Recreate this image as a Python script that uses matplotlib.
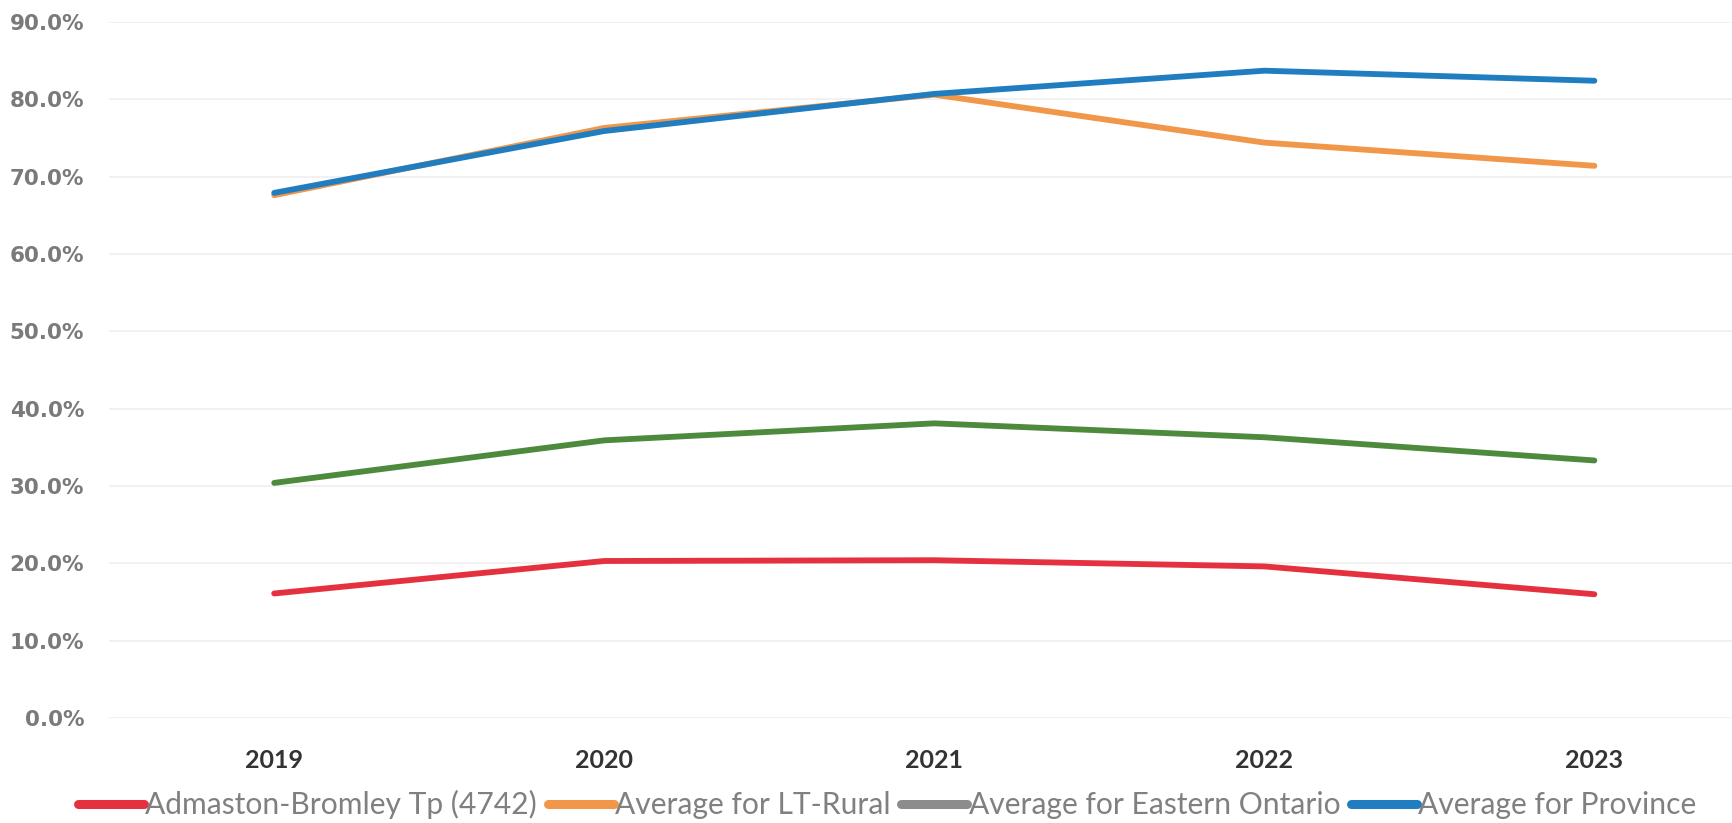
import matplotlib
matplotlib.use("Agg")
from matplotlib import pyplot as plt
from matplotlib.lines import Line2D
from matplotlib.ticker import FuncFormatter

years = ['2019', '2020', '2021', '2022', '2023']
admaston = [16.1, 20.3, 20.4, 19.6, 16.0]
lt_rural = [67.6, 76.3, 80.6, 74.4, 71.4]
eastern_ontario = [30.4, 35.9, 38.1, 36.3, 33.3]
province = [67.9, 75.9, 80.7, 83.7, 82.4]

labels = ['Admaston-Bromley Tp (4742)', 'Average for LT-Rural',
          'Average for Eastern Ontario', 'Average for Province']
line_colors = ['#e5313f', '#f0974a', '#4d8a3c', '#1f7dc0']
legend_colors = ['#e5313f', '#f0974a', '#8c8c8c', '#1f7dc0']


def main():
    fig = plt.figure(figsize=(17.33, 8.23), dpi=100)
    ax = fig.add_axes([0.063, 0.1276, 0.937, 0.8457])

    x = range(len(years))
    for series, color in zip([admaston, lt_rural, eastern_ontario, province], line_colors):
        ax.plot(x, series, color=color, linewidth=4.2, solid_capstyle='round')

    ax.set_xlim(-0.5, 4.42)
    ax.set_ylim(0, 90)
    ax.set_yticks(range(0, 91, 10))
    ax.yaxis.set_major_formatter(FuncFormatter(lambda v, p: f'{v:.1f}%'))
    ax.set_xticks(list(x))
    ax.set_xticklabels(years)

    ax.grid(axis='y', color='#efefef', linewidth=1.2)
    ax.set_axisbelow(True)
    for side in ax.spines.values():
        side.set_visible(False)
    ax.tick_params(length=0)
    ax.tick_params(axis='y', pad=18)
    ax.tick_params(axis='x', pad=22)

    for t in ax.get_yticklabels():
        t.set_fontfamily('DejaVu Sans')
        t.set_fontweight('bold')
        t.set_fontsize(15.5)
        t.set_color('#7a7a7a')
    for t in ax.get_xticklabels():
        t.set_fontfamily('Lato')
        t.set_fontweight('bold')
        t.set_fontsize(18)
        t.set_color('#333333')

    handles = [Line2D([], [], color=c, linewidth=6.5, solid_capstyle='round')
               for c in legend_colors]
    fig.legend(handles, labels, loc='center', bbox_to_anchor=(0.512, 0.022),
               ncol=4, frameon=False, handlelength=2.2, handletextpad=0.05,
               columnspacing=0.35, borderaxespad=0,
               prop={'family': 'Lato', 'size': 21.6}, labelcolor='#808080')

    fig.savefig('out.png', dpi=100, facecolor='white')


if __name__ == "__main__":
    main()
